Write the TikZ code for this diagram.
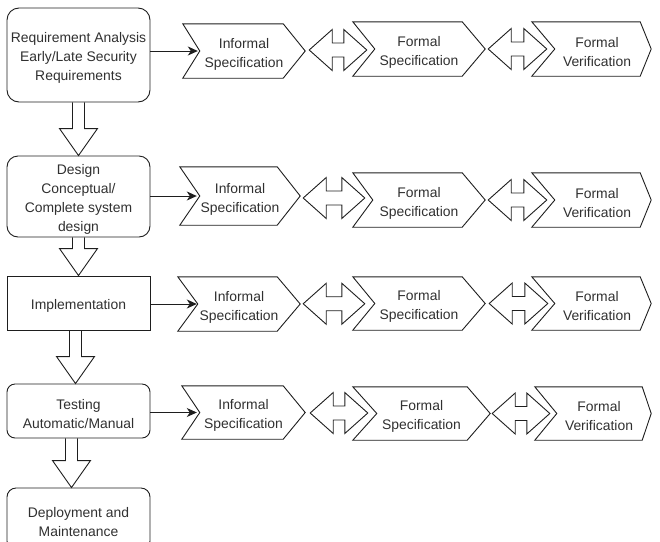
\documentclass[tikz,border=0pt]{standalone}
\usepackage{fontspec}
\setmainfont{Liberation Sans}
\usetikzlibrary{arrows.meta, calc}
\definecolor{inkgray}{HTML}{1E1E1E}
\definecolor{textgray}{HTML}{303030}
\newcommand{\topstrut}{\rule{0pt}{16pt}}

\begin{document}
\begin{tikzpicture}[x=1pt, y=-1pt,
    every node/.style={font=\fontsize{13.9pt}{19pt}\selectfont, text=textgray},
    phase/.style={draw=inkgray, line width=0.9pt, minimum width=143pt,
      inner sep=1pt, align=center},
    chevron/.style={inner sep=0pt, align=center},
    shapeline/.style={draw=inkgray, line width=0.9pt},
    conn/.style={draw=inkgray, line width=0.9pt,
      -{Stealth[length=10pt, width=9pt, inset=3pt]}}]

    \useasboundingbox (0,0) rectangle (660,541);

    %% ── Life-cycle phases (left column) ──────────────────────────────────
    \node[phase, rounded corners=12pt, minimum height=94pt] (req) at (78.5,55)
      {\topstrut Requirement Analysis\\Early/Late Security\\Requirements};
    \node[phase, rounded corners=11pt, minimum height=81pt] (design) at (78.5,196.5)
      {\topstrut Design\\Conceptual/\\Complete system\\design};
    \node[phase, minimum height=54pt] (impl) at (78.5,303) {\topstrut Implementation};
    \node[phase, rounded corners=8pt, minimum height=54pt] (test) at (78.5,411)
      {\topstrut Testing\\Automatic/Manual};
    \node[phase, rounded corners=9pt, minimum height=62pt] (deploy) at (78.5,519)
      {\topstrut Deployment and\\Maintenance};

    %% ── Row 1 ────────────────────────────────────────────────────────────
    \node[chevron, minimum width=122pt, minimum height=54pt] (inf1) at (244,51)
      {\topstrut Informal\\Specification};
    \node[chevron, minimum width=132pt, minimum height=54pt] (fspec1) at (419,49)
      {\topstrut Formal\\Specification};
    \node[chevron, minimum width=108pt, minimum height=54pt] (fver1) at (597,49)
      {\topstrut Formal\\Verification};

    %% ── Row 2 ────────────────────────────────────────────────────────────
    \node[chevron, minimum width=120pt, minimum height=58pt] (inf2) at (240,196)
      {\topstrut Informal\\Specification};
    \node[chevron, minimum width=132pt, minimum height=54pt] (fspec2) at (419,200)
      {\topstrut Formal\\Specification};
    \node[chevron, minimum width=108pt, minimum height=54pt] (fver2) at (597,200)
      {\topstrut Formal\\Verification};

    %% ── Row 3 ────────────────────────────────────────────────────────────
    \node[chevron, minimum width=122pt, minimum height=54pt] (inf3) at (239,304)
      {\topstrut Informal\\Specification};
    \node[chevron, minimum width=132pt, minimum height=53pt] (fspec3) at (419,303.5)
      {\topstrut Formal\\Specification};
    \node[chevron, minimum width=108pt, minimum height=53pt] (fver3) at (597,303.5)
      {\topstrut Formal\\Verification};

    %% ── Row 4 ────────────────────────────────────────────────────────────
    \node[chevron, minimum width=123pt, minimum height=53pt] (inf4) at (243.5,412.5)
      {\topstrut Informal\\Specification};
    \node[chevron, minimum width=137pt, minimum height=53pt] (fspec4) at (421.5,413.5)
      {\topstrut Formal\\Specification};
    \node[chevron, minimum width=104pt, minimum height=53pt] (fver4) at (599,413.5)
      {\topstrut Formal\\Verification};

    %% Chevron outlines: name / left extension / notch / tip depth
    \foreach \n/\l/\nt/\tp in {inf1/0/17/22, fspec1/0/22/23, fver1/11/12/11,
        inf2/0/20/23, fspec2/0/20/23, fver2/11/12/11,
        inf3/0/20/23, fspec3/0/22/23, fver3/11/12/11,
        inf4/0/18/22, fspec4/0/24/23, fver4/12/10/9}
      \draw[shapeline] ([xshift=-\l pt]\n.north west) -- ([xshift=-\tp pt]\n.north east)
        -- (\n.east) -- ([xshift=-\tp pt]\n.south east)
        -- ([xshift=-\l pt]\n.south west) -- ([xshift=\nt pt]\n.west) -- cycle;

    %% Hollow arrows down the column
    \foreach \a/\b/\dx in {req/design/0, design/impl/0, impl/test/-3, test/deploy/-7}
      \draw[shapeline] let \p1=([xshift=\dx pt]\a.south), \p2=(\b.north) in
        (\x1-6pt,\y1) -- (\x1-6pt,\y2+27pt) -- (\x1-19pt,\y2+27pt) -- (\x1,\y2)
        -- (\x1+19pt,\y2+27pt) -- (\x1+6pt,\y2+27pt) -- (\x1+6pt,\y1);

    %% Phase to informal specification
    \foreach \a/\b/\o in {req/inf1/15, design/inf2/17, impl/inf3/19, test/inf4/15}
      \draw[conn] (\a.east |- \b.center) -- ([xshift=\o pt]\b.west);

    %% Two-way hollow arrows between the chevrons
    \foreach \a/\b/\sa/\eb in {inf1/fspec1/4/14, fspec1/fver1/3/4,
        inf2/fspec2/3/12, fspec2/fver2/3/4, inf3/fspec3/3/12, fspec3/fver3/4/5,
        inf4/fspec4/5/15, fspec4/fver4/2/3}
      \draw[shapeline] let \p1=([xshift=\sa pt]\a.east), \p2=([xshift=\eb pt]\b.west),
          \p3=($(\a.east)!.5!(\b.west)$) in
        (\x1,\y3) -- (\x1+23pt,\y3+20.5pt) -- (\x1+23pt,\y3+7pt) -- (\x2-23pt,\y3+7pt)
        -- (\x2-23pt,\y3+20.5pt) -- (\x2,\y3) -- (\x2-23pt,\y3-20.5pt)
        -- (\x2-23pt,\y3-7pt) -- (\x1+23pt,\y3-7pt) -- (\x1+23pt,\y3-20.5pt) -- cycle;

\end{tikzpicture}
\end{document}
